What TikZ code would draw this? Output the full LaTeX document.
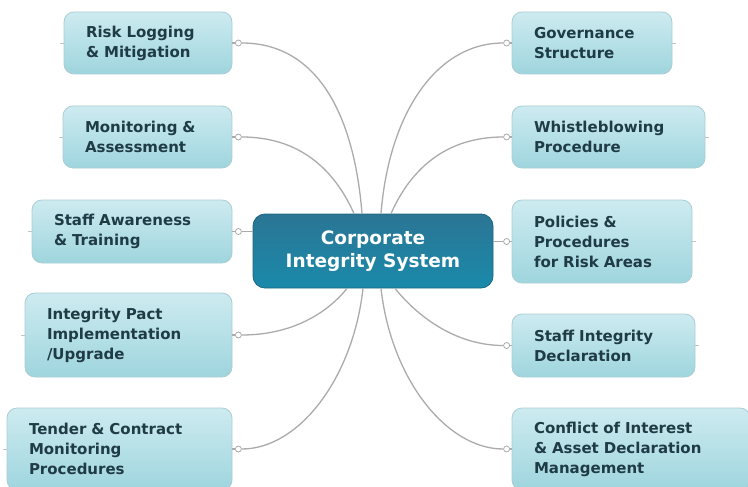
\documentclass[tikz,border=0pt]{standalone}
\usepackage{fontspec}
\setmainfont{DejaVu Sans}
\definecolor{leaftop}{HTML}{CDEBF0}
\definecolor{leafbot}{HTML}{9FD5DE}
\definecolor{leafline}{HTML}{A9CDD4}
\definecolor{leafink}{HTML}{1F3B46}
\definecolor{hubtop}{HTML}{2B7594}
\definecolor{hubbot}{HTML}{1A8AAB}
\definecolor{hubline}{HTML}{1A6580}
\definecolor{linkgray}{HTML}{ABABAB}

\tikzset{every picture/.style={line width=0.75pt}}
\tikzset{
  leaf/.style={rectangle, rounded corners=10pt, draw=leafline, line width=0.8pt,
    top color=leaftop, bottom color=leafbot, text=leafink, align=left,
    inner xsep=22pt, inner ysep=0pt,
    font=\bfseries\fontsize{15}{20}\selectfont},
  hub/.style={rectangle, rounded corners=12pt, draw=hubline, line width=0.8pt,
    top color=hubtop, bottom color=hubbot, text=white, align=center,
    minimum width=240pt, minimum height=74pt,
    font=\bfseries\fontsize{18.5}{23}\selectfont},
  knob/.style={circle, draw=linkgray, fill=white, inner sep=0pt,
    minimum size=6pt, line width=0.8pt},
  link/.style={draw=linkgray, line width=1.3pt},
  stub/.style={draw=linkgray!70, line width=0.8pt}
}

\begin{document}
\begin{tikzpicture}[x=1pt,y=1pt,yscale=-1,xscale=1]
\useasboundingbox (0,0) rectangle (748,487);

%Centre
\node[hub] (hub) at (373,251) {Corporate\\Integrity System};

%Left boxes
\node[leaf, text width=124pt, minimum height=62pt] (risk) at (148,43) {Risk Logging\\\& Mitigation};
\node[leaf, text width=125pt, minimum height=62pt] (monit) at (147.5,137) {Monitoring \&\\Assessment};
\node[leaf, text width=156pt, minimum height=63pt] (aware) at (132,231.5) {Staff Awareness\\\& Training};
\node[leaf, text width=163pt, minimum height=84pt] (pact) at (128.5,335) {Integrity Pact\\Implementation\\/Upgrade};
\node[leaf, text width=181pt, minimum height=82pt] (tender) at (119.5,449) {Tender \& Contract\\Monitoring\\Procedures};

%Right boxes
\node[leaf, text width=116pt, minimum height=62pt] (gov) at (592,43) {Governance\\Structure};
\node[leaf, text width=149pt, minimum height=62pt] (whistle) at (608.5,137) {Whistleblowing\\Procedure};
\node[leaf, text width=136pt, minimum height=83pt] (policy) at (602,241.5) {Policies \&\\Procedures\\for Risk Areas};
\node[leaf, text width=139pt, minimum height=63pt] (sdecl) at (603.5,345.5) {Staff Integrity\\Declaration};
\node[leaf, text width=194pt, minimum height=82pt] (conflict) at (631,449) {Conflict of Interest\\\& Asset Declaration\\Management};

%Knobs
\foreach \n in {risk,monit,aware,pact,tender}
  \node[knob] (\n k) at ([xshift=6pt]\n.east) {};
\foreach \n in {gov,whistle,policy,sdecl,conflict}
  \node[knob] (\n k) at ([xshift=-5pt]\n.west) {};

%Short ties and outer stubs
\foreach \n in {risk,monit,aware,pact,tender} {
  \draw[link] (\n.east) -- (\n k);
  \draw[stub] (\n.west) -- ([xshift=-4pt]\n.west);
}
\foreach \n in {gov,whistle,policy,sdecl,conflict} {
  \draw[link] (\n.west) -- (\n k);
  \draw[stub] (\n.east) -- ([xshift=4pt]\n.east);
}

%Branches, left
\draw[link] (riskk.east) .. controls +(75,0) and +(-8,-100) .. ([xshift=-11pt]hub.north);
\draw[link] (monitk.east) .. controls +(57,0) and +(-20,-45) .. ([xshift=-19pt]hub.north);
\draw[link] (awarek.east) -- (awarek -| hub.west);
\draw[link] (pactk.east) .. controls +(50,0) and +(-20,25) .. ([xshift=-26pt]hub.south);
\draw[link] (tenderk.east) .. controls +(57,0) and +(-10,90) .. ([xshift=-10pt]hub.south);

%Branches, right
\draw[link] (govk.west) .. controls +(-67,0) and +(8,-100) .. ([xshift=8pt]hub.north);
\draw[link] (whistlek.west) .. controls +(-57,0) and +(20,-45) .. ([xshift=18pt]hub.north);
\draw[link] (policyk.west) -- (policyk -| hub.east);
\draw[link] (sdeclk.west) .. controls +(-50,0) and +(20,25) .. ([xshift=22pt]hub.south);
\draw[link] (conflictk.west) .. controls +(-57,0) and +(10,90) .. ([xshift=8pt]hub.south);

\end{tikzpicture}
\end{document}
